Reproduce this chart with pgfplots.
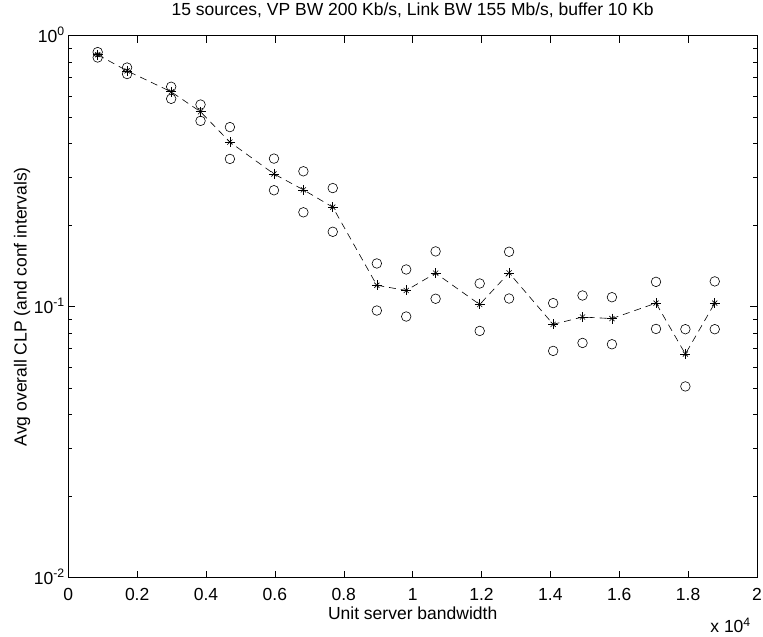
\documentclass[border=0pt]{standalone}
\usepackage{fontspec}
\setmainfont{Liberation Sans}
\usepackage{pgfplots}
\usepackage{pgfplotstable}
\pgfplotsset{compat=1.18}
\usetikzlibrary{calc}
\pgfplotstableread{
x mean lo hi
853   0.851  0.831  0.870
1707  0.742  0.722  0.763
2987  0.621  0.585  0.648
3840  0.524  0.485  0.557
4693  0.405  0.351  0.460
5973  0.309  0.269  0.352
6827  0.270  0.223  0.316
7680  0.233  0.189  0.274
8960  0.120  0.0968 0.1444
9813  0.1148 0.0920 0.1372
10667 0.133  0.107  0.160
11947 0.1019 0.0814 0.1218
12800 0.1333 0.1072 0.1595
14080 0.0861 0.0687 0.1031
14933 0.0916 0.0735 0.110
15787 0.0904 0.0727 0.1084
17067 0.1031 0.0828 0.1235
17920 0.0669 0.0508 0.0826
18773 0.1031 0.0826 0.1240
}\datatable
\newcommand{\fs}{\fontsize{17.5}{20}\selectfont}
\begin{document}
\begin{tikzpicture}
\begin{axis}[
  name=ax, at={(0,0)}, anchor=south west,
  scale only axis, width=688.7pt, height=542pt,
  xmin=0, xmax=20000, ymin=0.01, ymax=1, ymode=log,
  xtick={0,2000,4000,6000,8000,10000,12000,14000,16000,18000,20000},
  xticklabels={0,0.2,0.4,0.6,0.8,1,1.2,1.4,1.6,1.8,2},
  scaled x ticks=false,
  ytick={0.01,0.1,1},
  yticklabels={10\textsuperscript{-2},10\textsuperscript{-1},10\textsuperscript{0}},
  tick align=inside,
  major tick length=7pt, minor tick length=4pt,
  every tick/.style={black, line width=0.5pt},
  axis line style={line width=0.8pt},
  ticklabel style={font=\fs},
  xticklabel style={anchor=base, yshift=-22.3pt},
  yticklabel style={anchor=base east, yshift=-6.5pt, xshift=0pt},
  title={15 sources, VP BW 200 Kb/s, Link BW 155 Mb/s, buffer 10 Kb},
  title style={font=\fs, at={(axis description cs:0.5,1)}, anchor=base, yshift=14pt},
  xlabel={Unit server bandwidth},
  xlabel style={font=\fs, at={(axis description cs:0.5,0)}, anchor=base, yshift=-41.3pt},
  ylabel={Avg overall CLP (and conf intervals)},
  ylabel style={font=\fs, at={(axis description cs:-0.0672,0.5)}, anchor=center},
]
\addplot[black, line width=0.6pt, dash pattern=on 7pt off 5pt, mark=+, mark size=5pt, mark options={solid}] table[x=x, y=mean] {\datatable};
\addplot[black, only marks, line width=0.6pt, mark=x, mark size=3.6pt] table[x=x, y=mean] {\datatable};
\addplot[black, only marks, line width=0.6pt, mark=o, mark size=4.8pt] table[x=x, y=lo] {\datatable};
\addplot[black, only marks, line width=0.6pt, mark=o, mark size=4.8pt] table[x=x, y=hi] {\datatable};
\end{axis}
\node[font=\fs, anchor=base east, inner sep=0pt] at ($(ax.south east)+(-6pt,-55pt)$) {x 10\textsuperscript{4}};
\pgfresetboundingbox
\path[use as bounding box] ($(ax.south west)+(-68.3pt,-59.3pt)$) rectangle ($(ax.north east)+(6pt,35.7pt)$);
\end{tikzpicture}
\end{document}
